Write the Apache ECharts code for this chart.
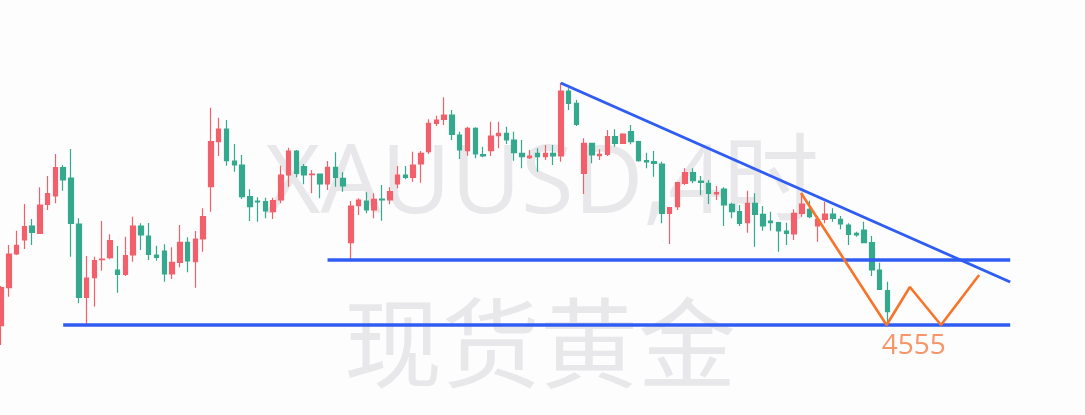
<!DOCTYPE html>
<html><head><meta charset="utf-8">
<script src="https://cdn.jsdelivr.net/npm/echarts@6/dist/echarts.min.js"></script>
<style>html,body{margin:0;padding:0;background:#fdfdfd}#c{width:1085px;height:415px}</style>
</head><body><div id="c"></div>
<script>
// XAUUSD 4H candles: [open, close, low, high]
const candles = [
[4554.3,4592.3,4535,4594],[4592.3,4626,4583.3,4635],[4626,4634.7,4625,4649.3],[4640,4653.3,4631,4676],
[4654,4647.7,4635,4661],[4646.7,4675,4646.5,4692.7],[4675.7,4686.3,4670,4704],[4684,4712.3,4676.7,4726],
[4712.3,4700,4689.3,4715],[4702,4656.7,4623.3,4731],[4656,4582.7,4576.7,4661.7],[4582.7,4602,4554.7,4624],
[4602.3,4619.3,4573.3,4623.3],[4620.3,4621,4609.3,4659],[4622.3,4639.3,4620.7,4645.7],[4610,4605.7,4587.3,4634],
[4605.7,4624.3,4604,4643.3],[4625,4654,4618.3,4663.3],[4654,4645,4630,4656.7],[4644,4625.7,4620,4657],
[4625,4622.7,4619.3,4634.3],[4629,4606,4598.3,4635.7],[4606,4617.7,4601,4632.7],[4617.7,4637.7,4612.7,4655],
[4637.7,4619,4607.7,4642.7],[4618.3,4641,4592.3,4649],[4641,4663.3,4628.3,4671.7],[4693.3,4738.3,4668.3,4772.3],
[4738.3,4751,4724,4762.3],[4751,4719.3,4714.3,4760],[4719,4715,4708.3,4736],[4715,4683.3,4681,4725],
[4683.3,4673.3,4659,4690.7],[4678.9,4678.1,4658.3,4682.7],[4678.3,4669,4661.7,4682.3],[4668.3,4679.3,4661,4682.3],
[4680,4705,4676.7,4714.3],[4705,4729,4693.3,4732.3],[4729,4706.7,4702.7,4730],[4713.3,4705,4695.7,4716],
[4705.3,4706,4686.7,4710],[4706,4696,4681.7,4706.5],[4696,4712.7,4690,4719],[4712.7,4702.7,4693.3,4727.7],
[4701.7,4694,4688.3,4707.7],[4637.3,4674,4619.3,4679],[4674.3,4680,4665,4681.7],[4679,4670,4666.7,4687.7],
[4670,4680.7,4661.7,4686.7],[4681,4680.2,4659.3,4695],[4680,4688.3,4675.7,4692.7],[4696,4705,4691.7,4714],
[4705,4702.7,4700.7,4714],[4702.7,4715,4698.3,4728.3],[4716,4726.7,4697.3,4729],[4728.3,4756.7,4726,4760.7],
[4756.7,4760,4754,4764.3],[4760.7,4765,4755,4782.7],[4765,4745.7,4740,4770],[4745,4730,4721,4748.3],
[4729.3,4751.7,4724.3,4753.3],[4751.7,4726,4721.7,4752.7],[4725.3,4724,4722.7,4733.3],[4729.3,4744,4724,4758.3],
[4744.3,4746.7,4731.7,4758.3],[4746.7,4740,4736,4753.3],[4740,4727.3,4719.3,4748.3],[4726.7,4723.3,4711.7,4740],
[4722.3,4724,4721,4730],[4726.7,4723.3,4708.3,4731.7],[4723.3,4726.7,4720,4735],[4726.7,4724,4715,4735],
[4724,4789,4718.3,4797.3],[4789,4776.7,4770,4791.7],[4776.7,4755.7,4754,4780],[4706.7,4736.7,4686,4741.7],
[4736.7,4725,4716.7,4737.3],[4724.3,4725.7,4720,4730.7],[4725.7,4743.3,4724,4750],[4743.3,4736.7,4733.3,4750.7],
[4736.7,4746,4736,4746.7],[4748.3,4738.3,4735.7,4755],[4738.3,4719.3,4718.3,4739.3],[4719.3,4718,4711.7,4727.3],
[4718.3,4716.7,4703.3,4729],[4716,4666.7,4656.7,4718.3],[4666.7,4672.3,4636,4672.7],[4673.3,4697.3,4670,4698.3],
[4696.7,4707.3,4695,4711.7],[4707.3,4699.3,4696.7,4711.7],[4699,4697.7,4685,4704],[4696.7,4686.7,4676,4700],
[4686,4687.3,4680,4694],[4691,4675,4654,4692.7],[4675.7,4668.3,4661.7,4677.3],[4668.3,4656.7,4654,4675],
[4657.3,4676.7,4647.3,4689.3],[4676.7,4665.7,4633.3,4686.7],[4665.7,4654,4649.3,4674],[4659,4657.3,4649.3,4668.3],
[4657.3,4649,4628.3,4658.3],[4649,4646.7,4635,4657.3],[4646,4666.7,4640,4670.7],[4666.7,4676,4663.3,4686.7],
[4670.7,4663.3,4661.7,4679.3],[4654,4660.7,4638.3,4664],[4660.7,4666,4656.7,4678.3],[4666,4661.7,4658.3,4671.7],
[4660.7,4656,4650.7,4664],[4655,4645.7,4635,4656.7],[4646.7,4645,4643.3,4648.3],[4650,4637.3,4636.7,4658.3],
[4637.3,4610,4604,4644],[4610,4590.7,4590,4617.3],[4589.3,4568.3,4556.7,4598.3]
];
const slotCount = 131; // candles plus empty future slots
const categories = Array.from({length: slotCount}, (_, i) => 'K' + (i + 1));

const supportLow = 4555;
const supportLowSpan = [8, 129.8];
const supportMid = 4620;
const supportMidSpan = [42, 129.8];
const trendLine = [[72, 4797], [129.8, 4598]];
const projection = [[102.9, 4687], [113.9, 4555], [116.9, 4593], [120.9, 4555], [125.8, 4605]];
const targetLabelAt = 117.4;

const UP = '#f2606c', DOWN = '#35a98e', BLUE = '#2f5cf2', ORANGE = '#f7742b';

const chart = echarts.init(document.getElementById('c'));
chart.setOption({
  backgroundColor: '#fdfdfd',
  animation: false,
  graphic: [
    {type: 'text', z: 0, x: 542, y: 186, style: {text: 'XAUUSD,4时', font: '400 96px "Open Sans", "Noto Sans CJK SC", sans-serif', fill: '#e8e8eb', textAlign: 'center', textVerticalAlign: 'middle'}},
    {type: 'text', z: 0, x: 540, y: 343, style: {text: '现货黄金', font: '400 98px "Noto Sans CJK SC", sans-serif', fill: '#e8e8eb', textAlign: 'center', textVerticalAlign: 'middle'}}
  ],
  grid: {left: 1, right: 1085 - (1 + (slotCount - 1) * 7.775), top: 0, bottom: 0},
  xAxis: [
    {type: 'category', data: categories, boundaryGap: false, show: false},
    {type: 'value', min: 0, max: slotCount - 1, show: false}
  ],
  yAxis: {type: 'value', min: 4465, max: 4880, show: false, splitLine: {show: false}},
  series: [
    {type: 'candlestick', data: candles, barWidth: 5, clip: false,
     itemStyle: {color: UP, color0: DOWN, borderColor: UP, borderColor0: DOWN, borderWidth: 1.2}},
    {type: 'line', xAxisIndex: 1, data: supportLowSpan.map(x => [x, supportLow]), symbol: 'none', clip: false,
     lineStyle: {color: BLUE, width: 3.5}, z: 5},
    {type: 'line', xAxisIndex: 1, data: supportMidSpan.map(x => [x, supportMid]), symbol: 'none', clip: false,
     lineStyle: {color: BLUE, width: 3.5}, z: 5},
    {type: 'line', xAxisIndex: 1, data: trendLine, symbol: 'none', clip: false,
     lineStyle: {color: BLUE, width: 3}, z: 5},
    {type: 'line', xAxisIndex: 1, data: projection, symbol: 'none', clip: false,
     lineStyle: {color: ORANGE, width: 2.6}, z: 6},
    {type: 'scatter', xAxisIndex: 1, data: [[targetLabelAt, supportLow]], symbolSize: 0, clip: false, z: 6,
     label: {show: true, position: 'bottom', distance: 7, formatter: String(supportLow),
       fontFamily: '"Open Sans", sans-serif', fontSize: 28, color: '#f57a40'}}
  ]
});
</script></body></html>
